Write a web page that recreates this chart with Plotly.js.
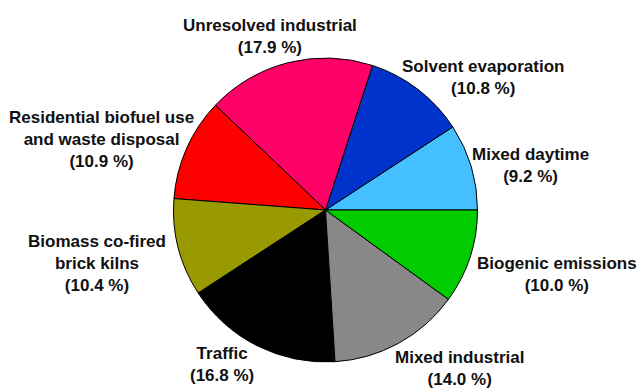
<!DOCTYPE html>
<html>
<head>
<meta charset="utf-8">
<script src="https://cdn.plot.ly/plotly-3.0.1.min.js"></script>
<style>
html,body{margin:0;padding:0;background:#fff;}
#chart{width:641px;height:389px;}
</style>
</head>
<body>
<div id="chart"></div>
<script>
// Data (counterclockwise from 3 o'clock)
var categories = [
  "Mixed daytime",
  "Solvent evaporation",
  "Unresolved industrial",
  "Residential biofuel use<br>and waste disposal",
  "Biomass co-fired<br>brick kilns",
  "Traffic",
  "Mixed industrial",
  "Biogenic emissions"
];
var shares = [9.2, 10.8, 17.9, 10.9, 10.4, 16.8, 14.0, 10.0];
var sliceColors = ["#44BFFF", "#0033CC", "#FF0066", "#FF0000", "#999900", "#000000", "#888888", "#00CC00"];

// Label placement in pixels (styling only)
var labelPx = [
  [530, 165], [483, 77], [270, 36], [101, 139],
  [97, 263], [222, 364], [459, 368], [557, 274]
];

var W = 641, H = 389;
var cx = 325.5, cy = 210, R = 152;

// Plotly's counterclockwise pies end the first slice at `rotation`;
// shift so the first slice starts at 3 o'clock.
var total = shares.reduce(function (a, b) { return a + b; }, 0);
var rot = 90 - 360 * shares[0] / total;

var trace = {
  type: "pie",
  labels: categories,
  values: shares,
  sort: false,
  direction: "counterclockwise",
  rotation: rot,
  textinfo: "none",
  hoverinfo: "label+percent",
  showlegend: false,
  marker: {colors: sliceColors, line: {color: "#000000", width: 1}},
  domain: {x: [(cx - R) / W, (cx + R) / W], y: [(H - cy - R) / H, (H - cy + R) / H]}
};

var annotations = categories.map(function (c, i) {
  return {
    xref: "paper", yref: "paper",
    x: labelPx[i][0] / W, y: 1 - labelPx[i][1] / H,
    xanchor: "center", yanchor: "middle",
    text: c + "<br>(" + shares[i].toFixed(1) + " %)",
    showarrow: false, align: "center",
    font: {family: "Liberation Sans, Arial, sans-serif", size: 17, color: "#111111", weight: "bold"}
  };
});

var layout = {
  width: W, height: H,
  margin: {l: 0, r: 0, t: 0, b: 0},
  paper_bgcolor: "#ffffff",
  plot_bgcolor: "#ffffff",
  annotations: annotations
};

Plotly.newPlot("chart", [trace], layout, {displayModeBar: false, staticPlot: true});
</script>
</body>
</html>
